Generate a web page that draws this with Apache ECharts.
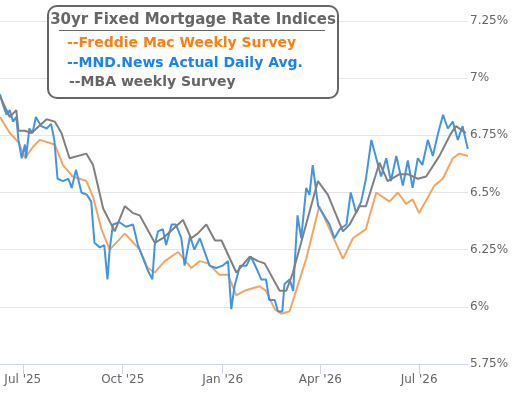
<!DOCTYPE html>
<html><head><meta charset="utf-8">
<script src="https://cdn.jsdelivr.net/npm/echarts@6/dist/echarts.min.js"></script>
<style>html,body{margin:0;padding:0;background:#fff}#c{width:525px;height:405px}</style>
</head><body><div id="c"></div>
<script>
// x values: days after 1 Jul 2025
const xTickDays = [0, 92, 184, 274, 365];
const xTickLabels = ["Jul '25", "Oct '25", "Jan '26", "Apr '26", "Jul '26"];
const yTicks = [5.75, 6, 6.25, 6.5, 6.75, 7, 7.25];

const freddieDays = [-21,-12,-4,2,9.5,15.6,29.4,37,46,58.6,64.7,72.4,80,94,107.7,115,121.5,130.7,143,155,163,170.5,181,189,196.6,204,218,224,232,238,245.7,261,273,282.5,294.8,304,316,325.5,337.7,345.4,353,359,365,379,386.8,396,402,410];
const freddieVals = [6.83,6.76,6.72,6.65,6.70,6.73,6.71,6.62,6.57,6.55,6.48,6.34,6.25,6.32,6.25,6.17,6.15,6.20,6.24,6.17,6.20,6.19,6.14,6.14,6.05,6.07,6.09,6.07,5.99,5.97,5.98,6.21,6.44,6.34,6.21,6.30,6.34,6.50,6.46,6.50,6.45,6.47,6.41,6.53,6.56,6.65,6.67,6.66];

const mbaDays = [-21,-12,-6,-4,2,8,22,29.4,35.6,43,58.6,64.7,74,84.7,94,101.5,107.7,121.5,129,147.5,155,161,169,177,183,196.6,209,216.6,222.7,236.5,242.6,248.8,271.8,281,294.8,301,310,316,328.5,336,347,354.6,363.8,371.5,383.7,394.5,399,408];
const mbaVals = [6.92,6.83,6.86,6.77,6.77,6.76,6.82,6.81,6.76,6.65,6.67,6.62,6.43,6.33,6.44,6.41,6.40,6.28,6.30,6.38,6.30,6.32,6.36,6.29,6.29,6.15,6.22,6.20,6.19,6.07,6.07,6.15,6.55,6.49,6.33,6.36,6.44,6.44,6.63,6.55,6.58,6.58,6.56,6.57,6.66,6.76,6.79,6.76];

const mndDays = [-21,-18,-15,-12,-9,-6,-4,-1,2,3,6,9,12,17,22,26,29,32,37,42,45,49,54,59,63,66,71,75,78,80,83,89,95,101.5,106,111,115,119.3,121.5,124.5,129,132,137,141,146,149,154,158,163,167.5,172,178,184,189,192,195,200,206,210,215,219.6,224,227,232,235,239,241,245.7,249,253,256.4,261,264,267,272,276,282.5,287,292,298,302,307,311.6,316,321,325.5,330,334.7,339,344,350,354.6,359,363.8,368,373,377.6,382,387,391.4,396,400.6,405,409.8];
const mndVals = [6.93,6.88,6.84,6.86,6.81,6.83,6.73,6.65,6.71,6.65,6.78,6.76,6.83,6.79,6.78,6.80,6.73,6.56,6.55,6.56,6.52,6.60,6.50,6.49,6.46,6.28,6.26,6.27,6.12,6.25,6.36,6.37,6.35,6.36,6.27,6.21,6.16,6.12,6.27,6.33,6.34,6.27,6.36,6.36,6.30,6.18,6.31,6.25,6.30,6.24,6.18,6.17,6.18,6.20,5.99,6.09,6.18,6.18,6.22,6.17,6.12,6.12,6.03,6.03,5.98,5.98,6.10,6.12,6.07,6.40,6.30,6.52,6.49,6.62,6.44,6.41,6.36,6.30,6.34,6.36,6.50,6.41,6.46,6.56,6.73,6.65,6.57,6.65,6.55,6.66,6.53,6.64,6.52,6.65,6.62,6.73,6.66,6.75,6.84,6.78,6.81,6.73,6.79,6.69];

const zip = (a, b) => a.map((d, i) => [d, b[i]]);
const chart = echarts.init(document.getElementById('c'));
chart.setOption({
  animation: false,
  grid: { left: 0, right: 57, top: 21, bottom: 41 },
  xAxis: {
    type: 'value', min: -21, max: 410,
    splitLine: { show: false },
    axisLine: { show: true, lineStyle: { color: '#ccd6eb' } },
    axisTick: { show: true, customValues: xTickDays, length: 10, lineStyle: { color: '#ccd6eb' } },
    axisLabel: { customValues: xTickDays, color: '#666', fontSize: 12, fontFamily: 'DejaVu Sans', margin: 10,
      formatter: v => xTickLabels[xTickDays.indexOf(v)] || '' }
  },
  yAxis: {
    type: 'value', position: 'right', min: 5.75, max: 7.25, interval: 0.25,
    axisLine: { show: false }, axisTick: { show: false },
    splitLine: { lineStyle: { color: '#e6e6e6' } },
    axisLabel: { color: '#666', fontSize: 12, fontFamily: 'DejaVu Sans', margin: 2,
      formatter: v => (+v.toFixed(2)) + '%' }
  },
  series: [
    { type: 'line', data: zip(freddieDays, freddieVals), showSymbol: false, lineStyle: { color: '#f5a55f', width: 2 }, z: 2 },
    { type: 'line', data: zip(mndDays, mndVals), showSymbol: false, lineStyle: { color: '#4395e3', width: 2 }, z: 3 },
    { type: 'line', data: zip(mbaDays, mbaVals), showSymbol: false, lineStyle: { color: '#808080', width: 2 }, z: 4 }
  ],
  graphic: [
    { type: 'rect', shape: { x: 48, y: 6, width: 290, height: 92, r: 9 }, style: { fill: '#fff', stroke: '#666', lineWidth: 2 }, z: 10 },
    { type: 'text', x: 193, y: 20, style: { text: '30yr Fixed Mortgage Rate Indices', fill: '#666', font: 'bold 15px "DejaVu Sans"', align: 'center', verticalAlign: 'middle' }, z: 11 },
    { type: 'rect', shape: { x: 59, y: 30, width: 266, height: 1 }, style: { fill: '#666' }, z: 11 },
    { type: 'text', x: 67, y: 43, style: { text: '--Freddie Mac Weekly Survey', fill: '#ff7f0e', font: 'bold 14px "DejaVu Sans"', verticalAlign: 'middle' }, z: 11 },
    { type: 'text', x: 67, y: 63, style: { text: '--MND.News Actual Daily Avg.', fill: '#1a82f7', font: 'bold 14px "DejaVu Sans"', verticalAlign: 'middle' }, z: 11 },
    { type: 'text', x: 69, y: 82, style: { text: '--MBA weekly Survey', fill: '#666', font: 'bold 14px "DejaVu Sans"', verticalAlign: 'middle' }, z: 11 }
  ]
});
</script></body></html>
